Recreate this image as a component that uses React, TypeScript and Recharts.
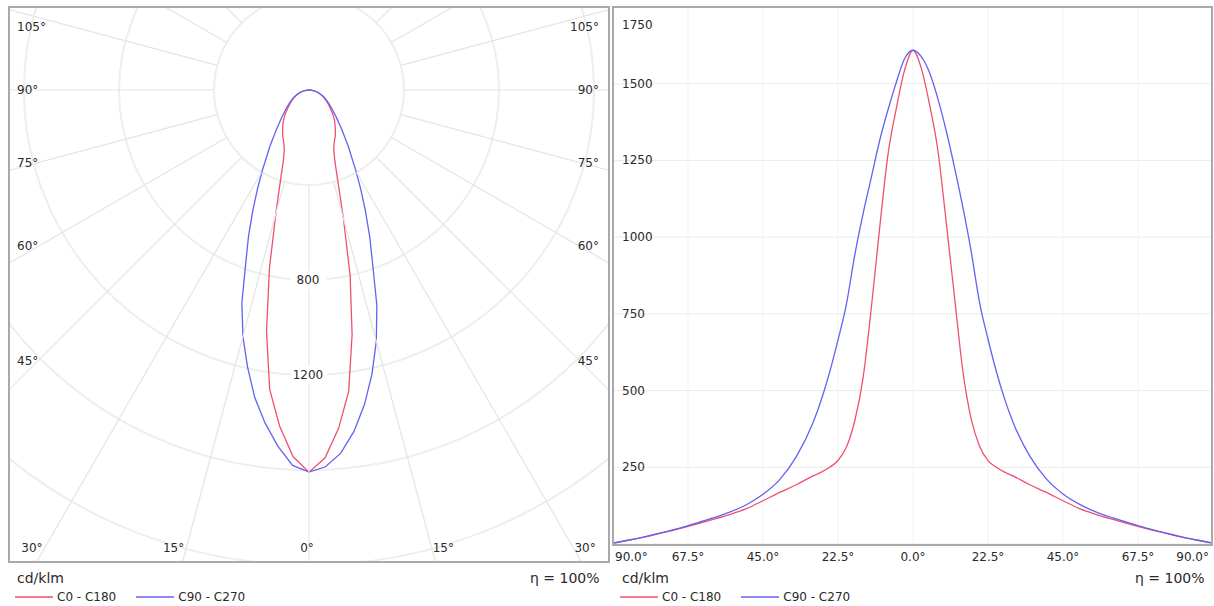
import {
  RadarChart,
  PolarGrid,
  PolarAngleAxis,
  PolarRadiusAxis,
  Radar,
  LineChart,
  Line,
  XAxis,
  YAxis,
  CartesianGrid,
  Legend,
} from 'recharts'

// gamma angles, negative = C180 / C270 half, positive = C0 / C90 half
const ANGLES = [
  -90, -85, -80, -75, -70, -65, -60, -55, -50, -45, -40, -35, -30, -27.5, -25, -22.5, -20, -17.5, -15, -12.5, -10, -7.5, -5, -2.5,
  0,
  2.5, 5, 7.5, 10, 12.5, 15, 17.5, 20, 22.5, 25, 27.5, 30, 35, 40, 45, 50, 55, 60, 65, 70, 75, 80, 85, 90,
]

// cd/klm
const C0_C180 = [
  3, 13, 24, 37, 50, 65, 80, 96, 115, 141, 168, 193, 222, 234, 250, 272, 315, 400, 540, 770, 1030, 1270, 1420, 1545,
  1609,
  1550, 1430, 1280, 1045, 800, 560, 405, 318, 272, 250, 234, 222, 193, 168, 141, 115, 96, 80, 65, 50, 37, 24, 13, 3,
]

const C90_C270 = [
  3, 13, 25, 38, 52, 68, 85, 104, 128, 162, 210, 285, 395, 470, 560, 665, 780, 940, 1075, 1195, 1315, 1415, 1505, 1582,
  1609,
  1588, 1535, 1450, 1345, 1225, 1095, 950, 785, 668, 562, 472, 397, 287, 212, 163, 129, 104, 85, 68, 52, 38, 25, 13, 3,
]

const SERIES_NAMES = ['C0 - C180', 'C90 - C270']
const SERIES_COLORS = ['#f0506e', '#6262f2']

const X_TICKS = [-90, -67.5, -45, -22.5, 0, 22.5, 45, 67.5, 90]
const Y_TICKS = [250, 500, 750, 1000, 1250, 1500, 1750]
const POLAR_ANGLE_TICKS = [
  -180, -165, -150, -135, -120, -105, -90, -75, -60, -45, -30, -15, 0, 15, 30, 45, 60, 75, 90, 105, 120, 135, 150, 165,
]
const POLAR_RADIUS_LABELS = [800, 1200]
const UNIT_LABEL = 'cd/klm'
const EFFICIENCY_LABEL = 'η = 100%'

const FONT = '"DejaVu Sans", Verdana, sans-serif'
const TEXT = '#2a2a2a'

const data = ANGLES.map((angle, i) => ({ angle, c0: C0_C180[i], c90: C90_C270[i] }))

// polar chart geometry (relative to its own box)
const P_W = 600
const P_H = 555
const CX = 300
const CY = 83
const OUTER = 570
const INNER = 95

const AngleTick = (props: any) => {
  const g = props.payload?.value
  if (g === undefined || Math.abs(g) > 105) return null
  const rad = (g * Math.PI) / 180
  const dx = Math.sin(rad)
  const dy = Math.cos(rad)
  let x = 0
  let y = 0
  let anchor: 'start' | 'middle' | 'end' = 'middle'
  if (Math.abs(g) <= 30) {
    y = 541
    x = CX + (dx / dy) * (y - CY)
    if (g < 0) { anchor = 'end'; x -= 2 }
    else if (g > 0) { anchor = 'start'; x += 1 }
    else { x -= 2 }
  } else if (g < 0) {
    const t = (29 - CX) / dx
    y = Math.max(CY + dy * t, 20)
    x = 8
    anchor = 'start'
  } else {
    const t = (571 - CX) / dx
    y = Math.max(CY + dy * t, 20)
    x = 590
    anchor = 'end'
  }
  return (
    <text x={x} y={y} textAnchor={anchor} dominantBaseline="central" fontSize={12} fontFamily={FONT} fill={TEXT}>
      {Math.abs(g)}°
    </text>
  )
}

const RadiusTick = (props: any) => {
  const { x, y, payload } = props
  if (!POLAR_RADIUS_LABELS.includes(payload?.value)) return null
  return (
    <g>
      <rect x={x - 18} y={y - 9} width={36} height={18} fill="#fff" />
      <text x={x - 1} y={y} textAnchor="middle" dominantBaseline="central" fontSize={12} fontFamily={FONT} fill={TEXT}>
        {payload.value}
      </text>
    </g>
  )
}

const XTick = (props: any) => {
  const { x, y, payload } = props
  const v = payload.value
  let anchor: 'start' | 'middle' | 'end' = 'middle'
  let shift = 0
  if (v === X_TICKS[0]) { anchor = 'start'; shift = 2 }
  if (v === X_TICKS[X_TICKS.length - 1]) { anchor = 'end'; shift = -4 }
  return (
    <text x={x + shift} y={y + 5} textAnchor={anchor} dominantBaseline="central" fontSize={12} fontFamily={FONT} fill={TEXT}>
      {Math.abs(v).toFixed(1)}°
    </text>
  )
}

const YTick = (props: any) => {
  const { y, payload } = props
  return (
    <text x={9} y={Math.max(y, 18)} textAnchor="start" dominantBaseline="central" fontSize={12} fontFamily={FONT} fill={TEXT}>
      {payload.value}
    </text>
  )
}

const renderLegend = (props: any) => (
  <div style={{ display: 'flex', alignItems: 'center', height: 16, fontFamily: FONT, fontSize: 12, color: TEXT, whiteSpace: 'nowrap' }}>
    {(props.payload || []).map((item: any, i: number) => (
      <div key={i} style={{ display: 'flex', alignItems: 'center', marginRight: 20 }}>
        <svg width={38} height={4} style={{ display: 'block' }}>
          <line x1={0} y1={2} x2={38} y2={2} stroke={item.color} strokeWidth={1.3} />
        </svg>
        <span style={{ marginLeft: 4 }}>{item.value}</span>
      </div>
    ))}
  </div>
)

const boxStyle = (left: number, top: number, width: number, height: number): React.CSSProperties => ({
  position: 'absolute',
  left,
  top,
  width,
  height,
  border: '2px solid #a9a9a9',
  boxSizing: 'border-box',
  pointerEvents: 'none',
})

const textStyle = (left: number, top: number, extra: React.CSSProperties = {}): React.CSSProperties => ({
  position: 'absolute',
  left,
  top,
  fontFamily: FONT,
  fontSize: 14,
  color: TEXT,
  lineHeight: '16px',
  whiteSpace: 'nowrap',
  ...extra,
})

export default function App() {
  return (
    <div style={{ position: 'absolute', left: 0, top: 0, width: 1214, height: 606, background: '#fff', overflow: 'hidden' }}>
      {/* polar diagram */}
      <div style={{ position: 'absolute', left: 9, top: 7, width: P_W, height: P_H }}>
        <RadarChart
          width={P_W}
          height={P_H}
          data={data}
          cx={CX}
          cy={CY}
          innerRadius={0}
          outerRadius={OUTER}
          startAngle={90}
          endAngle={450}
          margin={{ top: 0, right: 0, bottom: 0, left: 0 }}
        >
          <PolarGrid gridType="circle" radialLines={false} stroke="#eeeeee" strokeWidth={2} />
          <PolarAngleAxis
            dataKey="angle"
            type="number"
            domain={[-180, 180]}
            ticks={POLAR_ANGLE_TICKS as any}
            orientation="inner"
            tickSize={OUTER - INNER}
            axisLine={false}
            tickLine={{ stroke: '#e4e4e4', strokeWidth: 1.2 }}
            tick={<AngleTick />}
          />
          <PolarRadiusAxis
            angle={270}
            type="number"
            domain={[0, 2400]}
            tickCount={7}
            axisLine={false}
            tickLine={false}
            tick={<RadiusTick />}
          />
          <Radar
            name={SERIES_NAMES[0]}
            dataKey="c0"
            stroke={SERIES_COLORS[0]}
            strokeWidth={1.3}
            fill="none"
            fillOpacity={0}
            dot={false}
            isAnimationActive={false}
          />
          <Radar
            name={SERIES_NAMES[1]}
            dataKey="c90"
            stroke={SERIES_COLORS[1]}
            strokeWidth={1.3}
            fill="none"
            fillOpacity={0}
            dot={false}
            isAnimationActive={false}
          />
          <Legend
            content={renderLegend}
            verticalAlign="middle"
            align="center"
            layout="horizontal"
            wrapperStyle={{ top: 582, left: 6, width: 'auto', height: 16 }}
          />
        </RadarChart>
      </div>
      <div style={boxStyle(8, 6, 602, 557)} />
      <div style={textStyle(17, 570)}>{UNIT_LABEL}</div>
      <div style={textStyle(530, 570, { width: 69, textAlign: 'right' })}>{EFFICIENCY_LABEL}</div>

      {/* cartesian diagram */}
      <div style={{ position: 'absolute', left: 613, top: 7, width: 600, height: 567 }}>
        <LineChart width={600} height={567} data={data} margin={{ top: 0, right: 0, bottom: 0, left: -1 }}>
          <CartesianGrid horizontal vertical={false} stroke="#ebebeb" />
          <CartesianGrid horizontal={false} vertical stroke="#f3f3f3" />
          <XAxis
            dataKey="angle"
            type="number"
            domain={[-90, 90]}
            ticks={X_TICKS}
            interval={0}
            height={30}
            axisLine={false}
            tickLine={false}
            tick={<XTick />}
          />
          <YAxis
            type="number"
            domain={[0, 1750]}
            ticks={Y_TICKS}
            interval={0}
            width={1}
            axisLine={false}
            tickLine={false}
            tick={<YTick />}
          />
          <Line
            type="monotone"
            name={SERIES_NAMES[0]}
            dataKey="c0"
            stroke={SERIES_COLORS[0]}
            strokeWidth={1.3}
            dot={false}
            isAnimationActive={false}
          />
          <Line
            type="monotone"
            name={SERIES_NAMES[1]}
            dataKey="c90"
            stroke={SERIES_COLORS[1]}
            strokeWidth={1.3}
            dot={false}
            isAnimationActive={false}
          />
          <Legend
            content={renderLegend}
            verticalAlign="middle"
            align="center"
            layout="horizontal"
            wrapperStyle={{ top: 582, left: 7, width: 'auto', height: 16 }}
          />
        </LineChart>
      </div>
      <div style={boxStyle(612, 6, 601, 540)} />
      <div style={textStyle(622, 570)}>{UNIT_LABEL}</div>
      <div style={textStyle(1135, 570, { width: 69, textAlign: 'right' })}>{EFFICIENCY_LABEL}</div>
    </div>
  )
}
